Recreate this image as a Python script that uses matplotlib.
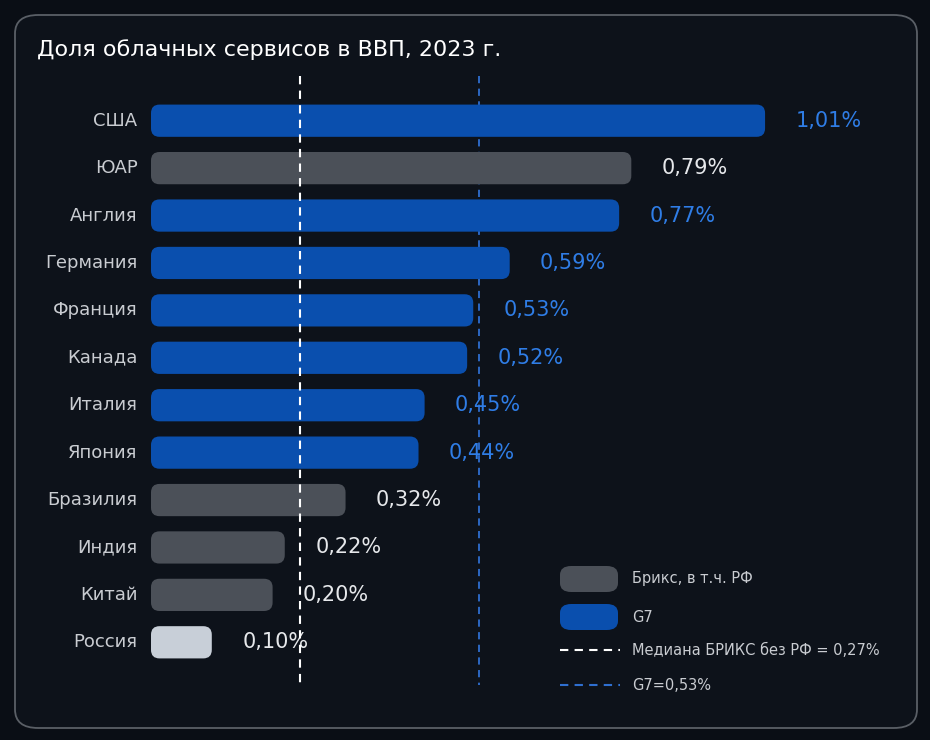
import matplotlib
matplotlib.use("Agg")
import matplotlib.pyplot as plt
from matplotlib.patches import FancyBboxPatch
from matplotlib.lines import Line2D

countries = ["США", "ЮАР", "Англия", "Германия", "Франция", "Канада",
             "Италия", "Япония", "Бразилия", "Индия", "Китай", "Россия"]
values = [1.01, 0.79, 0.77, 0.59, 0.53, 0.52, 0.45, 0.44, 0.32, 0.22, 0.20, 0.10]
groups = ["g7", "brics", "g7", "g7", "g7", "g7", "g7", "g7", "brics", "brics", "brics", "ru"]
labels = ["1,01%", "0,79%", "0,77%", "0,59%", "0,53%", "0,52%",
          "0,45%", "0,44%", "0,32%", "0,22%", "0,20%", "0,10%"]
median_brics = 0.245
median_g7 = 0.54

BG = "#0a0e15"
colors = {"g7": "#0a4fae", "brics": "#4b5058", "ru": "#c8cfd8"}
txtcol = {"g7": "#2f7de6", "brics": "#e6e8eb", "ru": "#e6e8eb"}

fig = plt.figure(figsize=(9.3, 7.4), dpi=100, facecolor=BG)
W, H = 930, 740
frame = FancyBboxPatch((15 / W, 12 / H), 902 / W, 713 / H, boxstyle="round,pad=0,rounding_size=0.025",
                       transform=fig.transFigure, fc="#0d121a", ec="#5a5f66", lw=1.3, zorder=-5)
fig.patches.append(frame)
fig.text(37 / W, 1 - 50 / H, "Доля облачных сервисов в ВВП, 2023 г.", color="white",
         fontsize=16, va="center", ha="left")

ax = fig.add_axes([151 / W, 1 - 666 / H, 749 / W, (666 - 97) / H])
ax.set_facecolor("none")
ax.set_xlim(0, 749 / 608)
ax.set_ylim(11.5, -0.5)
ax.axis("off")

aspect = (1 / 47.4) / (1 / 608)
for i, (c, v, g, lab) in enumerate(zip(countries, values, groups, labels)):
    h = 0.68
    p = FancyBboxPatch((0, i - h / 2), v, h, boxstyle="round,pad=0,rounding_size=0.014",
                       mutation_aspect=aspect, fc=colors[g], ec="none", zorder=2)
    ax.add_patch(p)
    ax.text(-0.022, i, c, ha="right", va="center", color="#c9ccd1", fontsize=13)
    ax.text(v + 0.05, i, lab, ha="left", va="center", color=txtcol[g], fontsize=15)

ax.plot([median_brics] * 2, [-0.95, 11.9], ls=(0, (4, 3)), color="white", lw=1.5, clip_on=False, zorder=3)
ax.plot([median_g7] * 2, [-0.95, 11.9], ls=(0, (4, 3)), color="#2f6fd0", lw=1.3, clip_on=False, zorder=1)

# legend
for y, col in [(579, colors["brics"]), (617, colors["g7"])]:
    fig.patches.append(FancyBboxPatch((560 / W, 1 - (y + 13) / H), 58 / W, 26 / H,
                                      boxstyle="round,pad=0,rounding_size=0.012",
                                      transform=fig.transFigure, fc=col, ec="none"))
for y, col in [(650, "white"), (685, "#2f6fd0")]:
    fig.lines.append(Line2D([560 / W, 620 / W], [1 - y / H] * 2, transform=fig.transFigure,
                            color=col, ls=(0, (4, 3)), lw=1.5))
for y, t in [(579, "Брикс, в т.ч. РФ"), (617, "G7"), (650, "Медиана БРИКС без РФ = 0,27%"),
             (685, "G7=0,53%")]:
    fig.text(632 / W, 1 - y / H, t, color="#c9ccd1", fontsize=10.5, va="center")

fig.savefig("out.png", dpi=100, facecolor=BG)
